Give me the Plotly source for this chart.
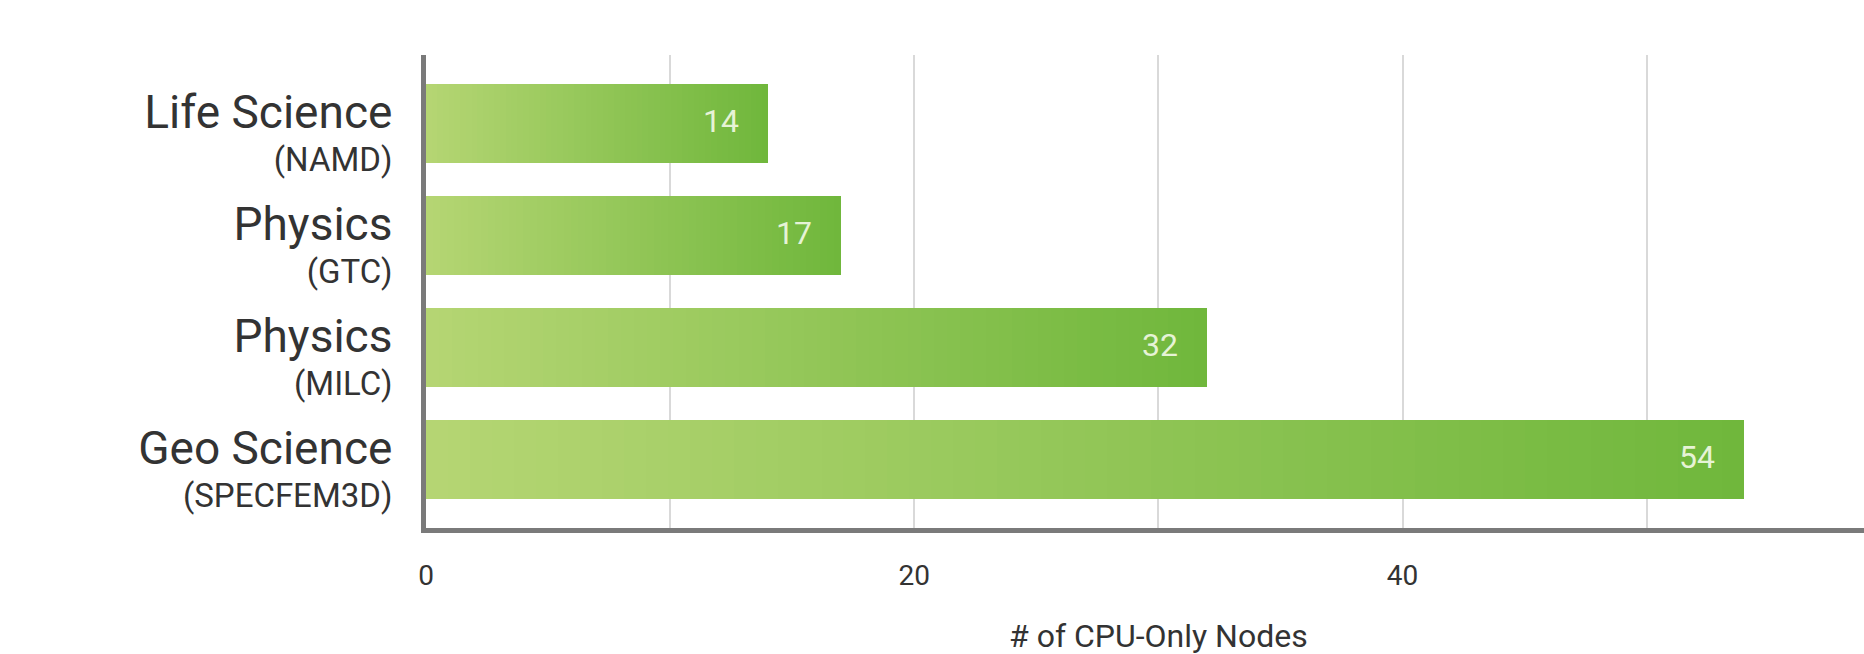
import plotly.graph_objects as go

# ---- data ----
fields = ["Life Science", "Physics", "Physics", "Geo Science"]
programs = ["(NAMD)", "(GTC)", "(MILC)", "(SPECFEM3D)"]
nodes = [14, 17, 32, 54]
x_ticks = [0, 20, 40]
x_title = "# of CPU-Only Nodes"

# ---- style ----
FONT = "Roboto"
light = (182, 214, 116)
dark = (112, 183, 60)
N_STEPS = 60

def mix(t):
    r = round(light[0] + (dark[0] - light[0]) * t)
    g = round(light[1] + (dark[1] - light[1]) * t)
    b = round(light[2] + (dark[2] - light[2]) * t)
    return f"rgb({r},{g},{b})"

fig = go.Figure()

# gradient bars: overlaid bars of decreasing length, lighter on top
for i in range(N_STEPS):
    frac = (N_STEPS - i) / N_STEPS
    fig.add_trace(go.Bar(
        y=programs,
        x=[v * frac for v in nodes],
        orientation="h",
        width=0.705,
        marker=dict(color=mix(frac), line=dict(width=0)),
        hoverinfo="skip",
        showlegend=False,
    ))

ticktext = [f"<span style='font-size:46px'>{f}</span><br>{p}" for f, p in zip(fields, programs)]

annotations = []
for p, v in zip(programs, nodes):
    annotations.append(dict(
        x=v, y=p, xref="x", yref="y", text=str(v), showarrow=False,
        xanchor="right", xshift=-27, yshift=3,
        font=dict(family=FONT, size=32, color="#e6f3d6"),
    ))
annotations.append(dict(
    x=30, y=-0.2283, xref="x", yref="paper", text=x_title, showarrow=False,
    xanchor="center", yanchor="middle",
    font=dict(family=FONT, size=32, color="#333333"),
))

fig.update_layout(
    width=1864, height=654,
    margin=dict(l=426, r=0, t=55, b=126),
    paper_bgcolor="white", plot_bgcolor="white",
    barmode="overlay",
    bargap=0,
    annotations=annotations,
    font=dict(family=FONT, color="#333333"),
    xaxis=dict(
        range=[0, 58.9],
        tickvals=x_ticks,
        ticks="",
        showgrid=True, gridcolor="#d9d9d9", gridwidth=2,
        minor=dict(dtick=10, tick0=0, showgrid=True, gridcolor="#d9d9d9", gridwidth=2),
        zeroline=False,
        showline=True, linecolor="#7a7a7a", linewidth=5,
        tickfont=dict(family=FONT, size=28, color="#333333"),
        ticklabelstandoff=18,
    ),
    yaxis=dict(
        range=[3.61, -0.612],
        tickvals=programs,
        ticktext=ticktext,
        ticks="",
        showgrid=False, zeroline=False,
        showline=True, linecolor="#7a7a7a", linewidth=5,
        tickfont=dict(family=FONT, size=33, color="#333333"),
        ticklabelstandoff=22,
        ticklabelshift=-14,
    ),
)

# remove the page's default body margin so the figure fills the window exactly
fig.write_html(
    "out.html",
    config={"displayModeBar": False},
    post_script="document.body.style.margin='0';",
)
